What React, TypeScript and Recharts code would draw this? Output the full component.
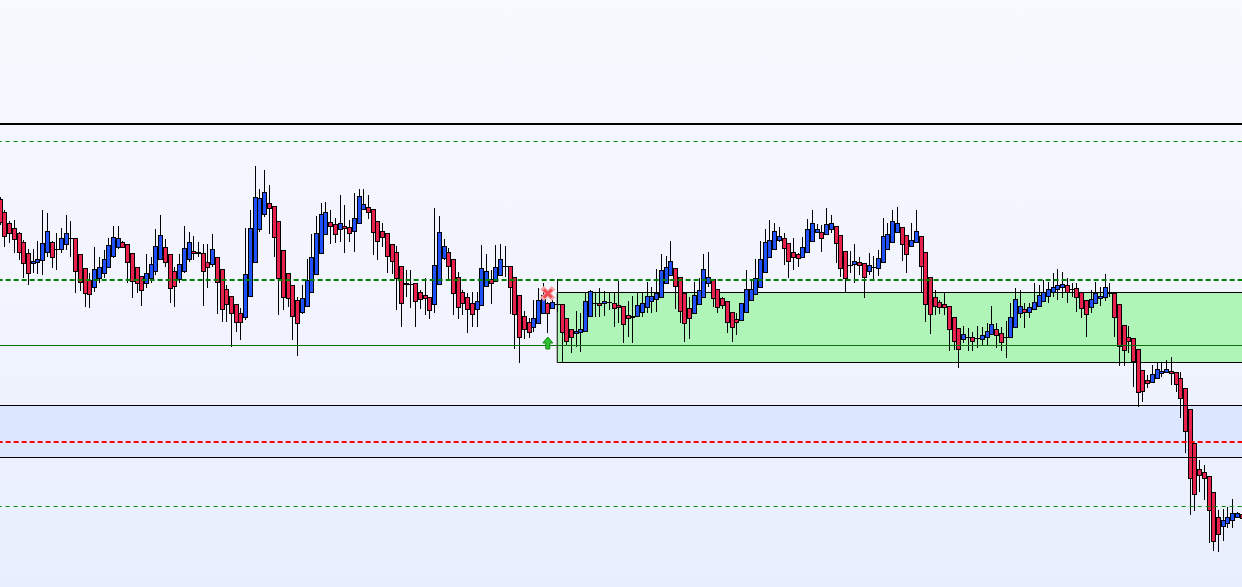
import React from "react";
import { ComposedChart, Bar, XAxis, YAxis, ReferenceLine, ReferenceArea, ReferenceDot } from "recharts";

const OPEN = [
  401,388,377,372,367,358,347,337,338,340,
  348,358,351,351,356,362,362,346,332,320,
  313,322,327,333,344,353,358,356,347,333,
  324,317,322,329,341,353,346,329,321,329,
  341,349,348,347,338,336,343,331,311,304,
  296,287,283,304,338,371,386,397,394,379,
  350,327,315,300,288,294,308,326,347,366,
  378,376,371,374,373,369,377,391,393,391,
  379,369,367,356,348,334,316,316,317,308,
  305,303,296,316,342,348,341,323,308,303,
  297,291,295,314,321,319,325,334,334,323,
  305,284,278,273,277,287,297,292,296,296,
  282,271,267,268,269,284,297,297,297,298,
  297,295,294,285,283,284,288,293,299,301,
  303,317,325,332,323,307,292,287,296,303,
  317,321,311,302,299,288,281,280,288,300,
  306,313,328,343,351,360,362,357,348,346,
  343,348,359,368,368,366,371,374,365,349,
  335,336,338,337,329,333,332,338,351,358,
  368,373,365,354,358,364,348,323,303,298,
  296,294,283,272,261,263,263,262,261,263,
  266,271,267,263,263,273,287,291,288,291,
  294,299,304,308,311,313,315,311,312,308,
  300,293,297,302,303,307,307,296,275,263,
  262,251,230,220,218,222,227,228,229,228,
  222,212,191,157,131,128,124,108,83,74,
  77,80,83,86,
];

const CLOSE = [
  378,364,367,361,348,337,327,339,341,357,
  369,343,351,362,367,362,329,318,307,306,
  331,333,341,355,363,362,353,338,319,317,
  310,327,336,354,365,338,312,314,336,352,
  358,347,347,329,333,351,318,291,296,287,
  278,278,326,372,403,402,408,392,363,322,
  303,302,284,277,302,320,343,367,386,388,
  374,366,377,372,367,382,404,396,388,368,
  359,363,344,339,322,297,317,316,299,301,
  302,290,335,368,354,334,307,293,297,291,
  286,299,332,329,317,333,341,334,313,286,
  263,271,268,282,300,305,287,298,296,268,
  259,263,269,271,299,309,297,295,299,298,
  292,293,276,282,284,295,297,304,304,307,
  330,333,339,314,289,277,282,305,310,331,
  323,302,293,295,278,273,278,297,311,311,
  322,341,358,360,369,364,352,339,343,342,
  353,371,377,371,362,376,377,357,332,322,
  335,339,335,323,335,333,342,364,366,379,
  377,356,346,360,369,334,296,286,294,293,
  293,271,259,251,266,263,259,262,265,269,
  276,265,258,263,283,301,294,288,293,298,
  305,308,311,313,315,316,308,311,303,292,
  286,301,307,304,313,307,283,254,250,259,
  239,208,209,217,226,231,229,231,227,216,
  202,169,122,106,125,122,90,59,66,80,
  83,87,87,82,
];

const HIGH = [
  403,390,379,380,368,360,351,351,359,390,
  387,359,367,372,385,379,362,346,332,327,
  353,343,350,362,374,374,359,356,347,333,
  324,346,343,371,385,361,346,333,346,374,
  368,364,358,356,356,366,343,331,315,304,
  296,292,372,390,434,411,430,415,394,379,
  350,327,315,303,315,341,366,384,397,398,
  390,382,405,395,380,407,411,411,405,391,
  379,377,367,356,354,334,330,330,317,310,
  322,303,392,384,361,352,341,328,310,307,
  308,308,355,346,330,355,356,354,334,323,
  305,289,282,300,312,317,298,302,321,296,
  282,271,289,287,308,310,308,312,309,308,
  307,319,294,299,304,307,307,318,313,331,
  346,344,359,332,323,307,303,318,322,346,
  348,321,311,303,299,288,287,297,330,321,
  341,359,371,380,377,373,367,357,362,347,
  363,381,390,376,375,392,385,374,365,349,
  349,356,343,337,347,344,350,382,377,390,
  393,373,365,377,390,364,348,323,310,300,
  307,294,283,272,274,272,268,274,273,277,
  294,277,273,279,297,312,310,297,297,317,
  315,320,318,327,331,328,322,317,317,308,
  300,310,318,313,326,317,307,296,275,274,
  262,251,230,225,235,237,237,240,243,228,
  228,212,191,157,140,135,124,108,90,91,
  93,101,88,92,
];

const LOW = [
  375,353,357,347,340,322,315,327,326,325,
  343,332,330,347,350,343,307,309,293,292,
  308,317,322,332,342,351,353,317,302,307,
  294,312,317,325,340,333,297,293,317,327,
  338,340,343,294,312,333,286,278,278,253,
  268,260,280,303,337,368,383,366,343,285,
  290,293,260,244,286,293,307,325,346,365,
  356,357,358,347,358,348,377,390,381,345,
  340,353,327,326,290,273,303,292,273,291,
  285,281,287,316,340,320,285,281,285,267,
  273,273,294,314,296,318,324,323,286,251,
  237,261,262,268,276,287,267,291,288,238,
  254,247,253,248,268,283,283,283,284,290,
  273,277,257,263,257,283,283,287,287,288,
  303,316,324,291,277,258,261,287,295,302,
  313,293,287,291,267,258,265,279,287,299,
  306,313,327,342,350,358,335,322,330,333,
  343,348,358,367,348,365,367,337,323,307,
  327,317,325,302,325,320,324,337,350,358,
  368,339,327,353,357,307,278,266,285,286,
  285,249,250,232,257,249,249,252,255,255,
  265,252,249,242,263,272,282,272,282,290,
  293,298,297,303,300,302,297,303,288,282,
  263,287,296,294,299,303,263,234,234,247,
  213,193,198,212,218,221,223,227,215,208,
  182,147,85,89,108,100,57,49,48,59,
  72,72,82,80,
];

const CATEGORIES = OPEN.map((_, i) => `B${i + 1}`);

// horizontal levels (price units)
const LEVEL_RESIST = 476;
const LEVEL_UPPER_DASH = 458.5;
const LEVEL_ENTRY_DASH = 320;
const ZONE_TOP = 307.5;
const ZONE_BOTTOM = 237.5;
const ZONE_START = 118;
const LEVEL_MID = 254.5;
const BAND_TOP = 194.5;
const BAND_BOTTOM = 142.5;
const LEVEL_STOP = 158;
const LEVEL_TARGET = 93.5;
const SIGNAL_INDEX = 116;
const SIGNAL_EXIT = 306.5;
const SIGNAL_BUY = 257;

const RED = "#e8204c";
const BLUE = "#1f50fa";

const data = CATEGORIES.map((c, i) => ({
  c,
  i,
  open: OPEN[i],
  close: CLOSE[i],
  high: HIGH[i],
  low: LOW[i],
  range: [LOW[i], HIGH[i]],
}));

const Candle = (props: any) => {
  const { x, y, width, height, payload } = props;
  if (x == null || y == null || !payload) return null;
  const { open, close, high, low } = payload;
  const yTop = Math.min(y, y + height);
  const yBot = Math.max(y, y + height);
  const span = high - low;
  const py = (v: number) => (span === 0 ? yTop : yTop + ((high - v) / span) * (yBot - yTop));
  const r = Math.round(x + width / 2 - 0.5);
  const bTop = Math.round(py(Math.max(open, close))) + 0.5;
  const bBot = Math.round(py(Math.min(open, close))) + 0.5;
  const fill = close < open ? RED : BLUE;
  return (
    <g>
      <line x1={r + 0.5} x2={r + 0.5} y1={Math.round(yTop)} y2={Math.round(yBot)} stroke="#000" strokeWidth={1} />
      <rect
        x={r - 1.5}
        y={bTop}
        width={4}
        height={Math.max(bBot - bTop, 0.01)}
        fill={fill}
        stroke="#000"
        strokeWidth={1}
      />
    </g>
  );
};

const ExitMark = (p: any) => {
  const { cx, cy } = p;
  const d = 4;
  return (
    <g>
      <line x1={cx - d} y1={cy - d} x2={cx + d} y2={cy + d} stroke="#f7a8a8" strokeWidth={5} strokeLinecap="square" />
      <line x1={cx - d} y1={cy + d} x2={cx + d} y2={cy - d} stroke="#f7a8a8" strokeWidth={5} strokeLinecap="square" />
      <line x1={cx - d} y1={cy - d} x2={cx + d} y2={cy + d} stroke="#ec4c54" strokeWidth={3} />
      <line x1={cx - d} y1={cy + d} x2={cx + d} y2={cy - d} stroke="#ec4c54" strokeWidth={3} />
    </g>
  );
};

const BuyArrow = (p: any) => {
  const { cx, cy } = p;
  const pts = [
    [cx, cy - 6],
    [cx + 5, cy],
    [cx + 2, cy],
    [cx + 2, cy + 6],
    [cx - 2, cy + 6],
    [cx - 2, cy],
    [cx - 5, cy],
  ]
    .map((q) => q.join(","))
    .join(" ");
  return <polygon points={pts} fill="#2ec22e" stroke="#118811" strokeWidth={1} />;
};

export default function App() {
  return (
    <div
      style={{
        width: 1242,
        height: 587,
        overflow: "hidden",
        background: "linear-gradient(to bottom, #f8f9ff 0%, #f1f4fe 55%, #e8eefd 100%)",
      }}
    >
      <style>{"body{margin:0}"}</style>
      <ComposedChart
        width={1242}
        height={587}
        data={data}
        margin={{ top: 0, right: -2.36, bottom: 0, left: -2.36 }}
        barCategoryGap={0}
        barGap={0}
      >
        <XAxis dataKey="c" hide />
        <XAxis xAxisId="n" type="number" dataKey="i" domain={[-0.5, 263.5]} allowDataOverflow hide />
        <YAxis type="number" domain={[13, 600]} allowDataOverflow hide />

        <ReferenceArea y1={BAND_BOTTOM} y2={BAND_TOP} fill="#dce6ff" fillOpacity={1} stroke="none" />
        <ReferenceArea
          xAxisId="n"
          x1={ZONE_START}
          y1={ZONE_BOTTOM}
          y2={ZONE_TOP}
          fill="#b0f5b8"
          fillOpacity={1}
          stroke="#000"
          strokeWidth={1}
        />
        <ReferenceLine y={LEVEL_RESIST} stroke="#000" strokeWidth={2} />
        <ReferenceLine y={LEVEL_UPPER_DASH} stroke="#008a00" strokeWidth={1} strokeDasharray="4 4" />
        <ReferenceLine y={LEVEL_ENTRY_DASH} stroke="#008000" strokeWidth={2} strokeDasharray="5 3" />
        <ReferenceLine y={LEVEL_MID} stroke="#0a700a" strokeWidth={1} />
        <ReferenceLine y={BAND_TOP} stroke="#000" strokeWidth={1} />
        <ReferenceLine y={BAND_BOTTOM} stroke="#000" strokeWidth={1} />
        <ReferenceLine y={LEVEL_STOP} stroke="#ff0000" strokeWidth={2} strokeDasharray="5 3" />
        <ReferenceLine y={LEVEL_TARGET} stroke="#008a00" strokeWidth={1} strokeDasharray="4 4" />

        <Bar dataKey="range" shape={<Candle />} isAnimationActive={false} />

        <ReferenceDot xAxisId="n" x={SIGNAL_INDEX} y={SIGNAL_EXIT} r={5} shape={ExitMark} />
        <ReferenceDot xAxisId="n" x={SIGNAL_INDEX} y={SIGNAL_BUY} r={5} shape={BuyArrow} />
      </ComposedChart>
    </div>
  );
}
